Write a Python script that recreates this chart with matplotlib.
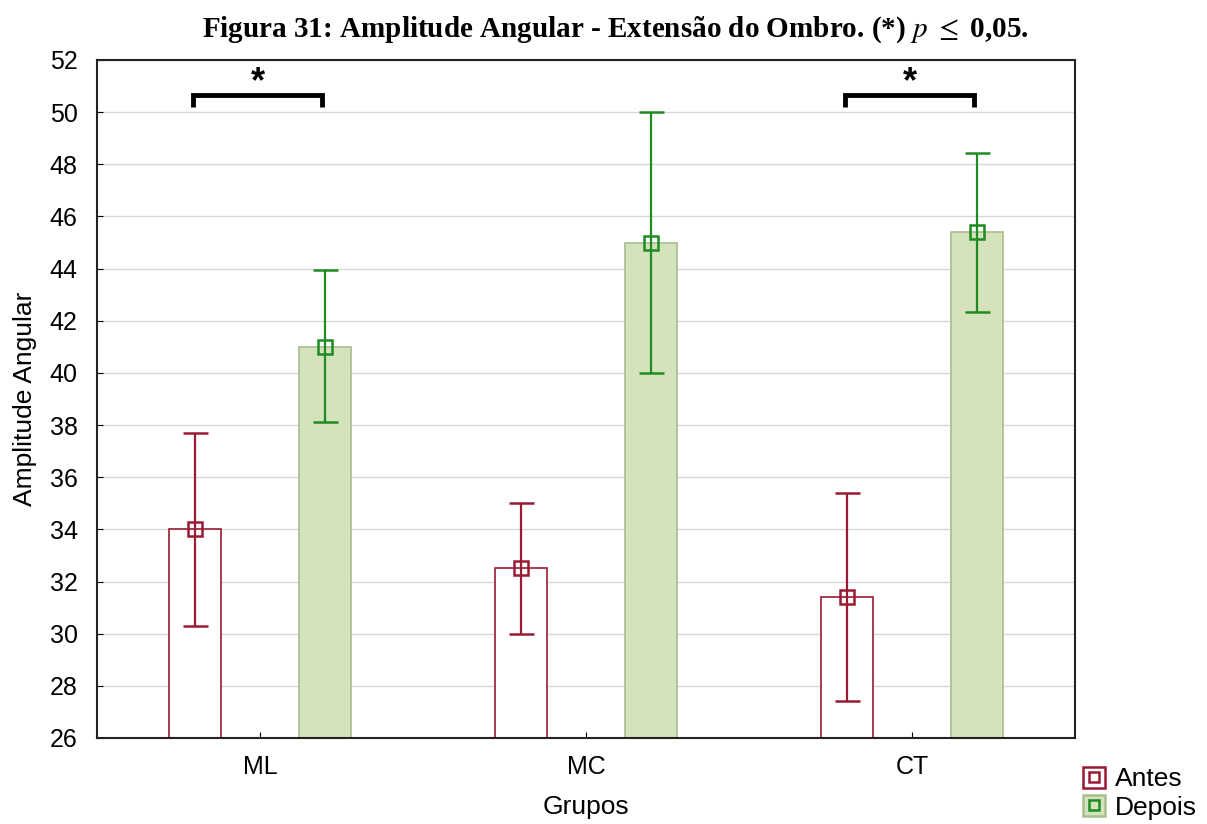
import numpy as np
import matplotlib
matplotlib.use("Agg")
import matplotlib.pyplot as plt
from matplotlib.patches import Patch
from matplotlib.lines import Line2D
from matplotlib.legend_handler import HandlerTuple

# data
grupos = ["ML", "MC", "CT"]
antes = [34.0, 32.5, 31.4]
antes_lo = [30.3, 30.0, 27.4]
antes_hi = [37.7, 35.0, 35.4]
depois = [41.0, 45.0, 45.4]
depois_lo = [38.1, 40.0, 42.35]
depois_hi = [43.95, 50.0, 48.45]
sig_groups = [0, 2]

red = "#9a1a32"
green = "#1f8c22"
green_fill = "#d4e3bb"
green_edge = "#a9bd8e"

plt.rcParams['font.family'] = ['Liberation Sans', 'DejaVu Sans']
plt.rcParams['mathtext.fontset'] = 'stix'

fig = plt.figure(figsize=(12.07, 8.24), dpi=100)
ax = fig.add_axes([0.0804, 0.1044, 0.8102, 0.8228])

x = np.arange(len(grupos))
off = 0.2
w = 0.16

ax.bar(x - off, np.array(antes) - 26, bottom=26, width=w, facecolor="white",
       edgecolor=red, linewidth=1.2, zorder=2)
ax.bar(x + off, np.array(depois) - 26, bottom=26, width=w, facecolor=green_fill,
       edgecolor=green_edge, linewidth=1.2, zorder=2)

ea = [np.array(antes) - np.array(antes_lo), np.array(antes_hi) - np.array(antes)]
ed = [np.array(depois) - np.array(depois_lo), np.array(depois_hi) - np.array(depois)]
ax.errorbar(x - off, antes, yerr=ea, fmt="s", color=red, mfc="none", mec=red,
            mew=1.8, ms=9.5, capsize=9, elinewidth=1.6, capthick=1.6, zorder=3)
ax.errorbar(x + off, depois, yerr=ed, fmt="s", color=green, mfc="none", mec=green,
            mew=1.8, ms=9.5, capsize=9, elinewidth=1.6, capthick=1.6, zorder=3)

# significance brackets
for g in sig_groups:
    x0, x1 = g - off - 0.005, g + off - 0.01
    ax.plot([x0, x0, x1, x1], [50.2, 50.66, 50.66, 50.2], color="black",
            lw=3.5, solid_capstyle="butt", solid_joinstyle="miter", zorder=4,
            clip_on=False)
    ax.text(g - 0.005, 50.45, "*", ha="center", va="bottom", fontsize=26,
            fontweight="bold", zorder=4)

ax.set_xlim(-0.5, 2.5)
ax.set_ylim(26, 52)
ax.set_yticks(np.arange(26, 53, 2))
ax.set_xticks(x)
ax.set_xticklabels(grupos)
ax.tick_params(direction="in", labelsize=18, length=4)
ax.tick_params(axis="y", pad=14)
ax.tick_params(axis="x", pad=12)
ax.grid(axis="y", color="#d8d8d8", linewidth=1.0, zorder=0)
ax.set_axisbelow(True)
for s in ax.spines.values():
    s.set_linewidth(1.5)
    s.set_color("#222222")

ax.set_xlabel("Grupos", fontsize=19, labelpad=12)
ax.set_ylabel("Amplitude Angular", fontsize=19, labelpad=9)

fig.suptitle("Figura 31: Amplitude Angular - Extensão do Ombro. (*) $\\mathit{p}$ $\\leq$ 0,05.",
             x=0.51, y=0.983, fontsize=21, fontweight="bold",
             family=["Liberation Serif", "DejaVu Serif"])

h_antes = (Patch(facecolor="white", edgecolor=red, linewidth=1.8),
           Line2D([], [], marker="s", ls="none", mfc="none", mec=red, mew=1.8, ms=7))
h_dep = (Patch(facecolor=green_fill, edgecolor=green_edge, linewidth=1.8),
         Line2D([], [], marker="s", ls="none", mfc="none", mec=green, mew=1.8, ms=7))
fig.legend([h_antes, h_dep], ["Antes", "Depois"],
           handler_map={tuple: HandlerTuple(ndivide=1, pad=0)},
           loc="lower right", bbox_to_anchor=(1.011, -0.024), frameon=False,
           fontsize=19, handlelength=0.85, handleheight=0.85, handletextpad=0.35,
           labelspacing=0.15)

fig.savefig("out.png", dpi=100)
